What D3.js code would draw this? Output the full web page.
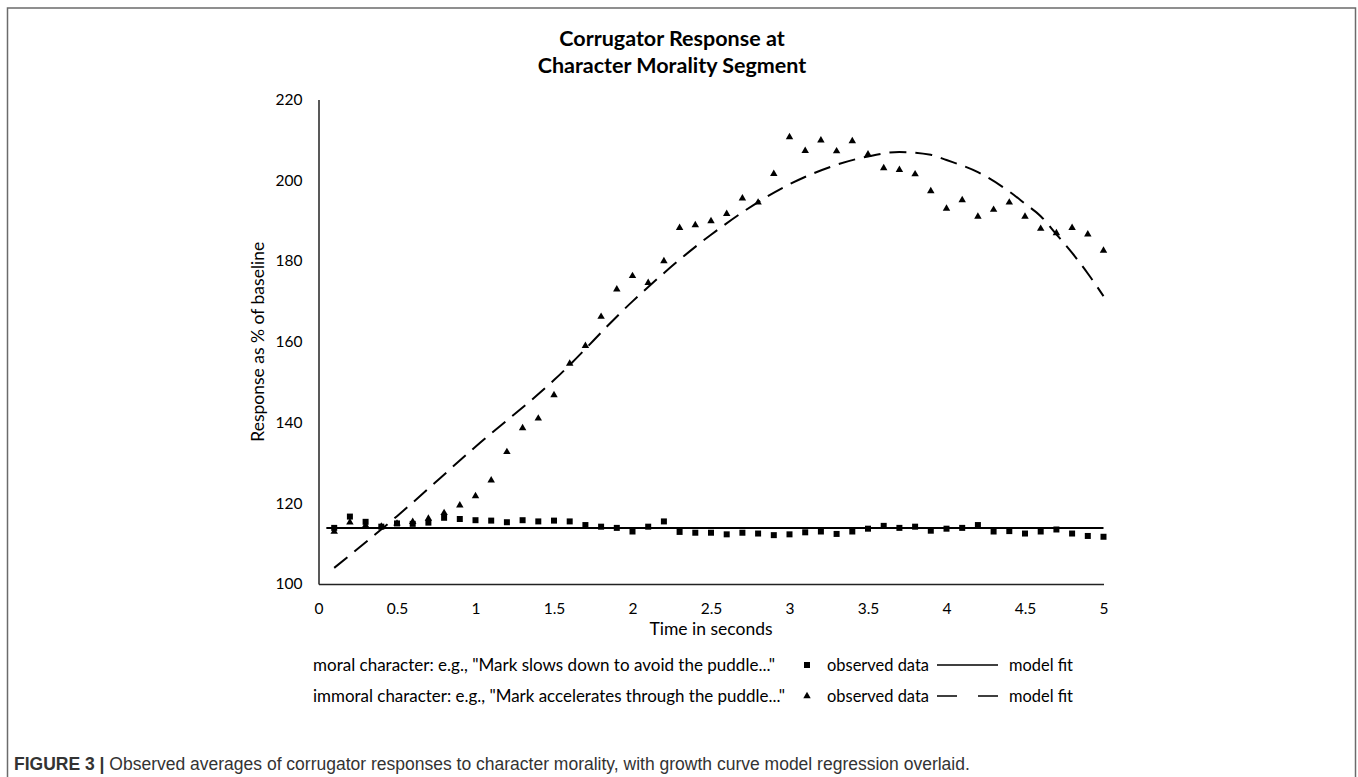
<!DOCTYPE html>
<html>
<head>
<meta charset="utf-8">
<script src="https://cdn.jsdelivr.net/npm/d3@7"></script>
<style>
  body { margin: 0; background: #fff; }
  text { font-family: Lato, "Open Sans", sans-serif; }
</style>
</head>
<body>
<div id="chart"></div>
<script>
// time points (seconds)
var times = [0.1,0.2,0.3,0.4,0.5,0.6,0.7,0.8,0.9,1.0,1.1,1.2,1.3,1.4,1.5,1.6,1.7,1.8,1.9,2.0,
             2.1,2.2,2.3,2.4,2.5,2.6,2.7,2.8,2.9,3.0,3.1,3.2,3.3,3.4,3.5,3.6,3.7,3.8,3.9,4.0,
             4.1,4.2,4.3,4.4,4.5,4.6,4.7,4.8,4.9,5.0];

// moral character, observed
var moralObserved = [113.9,116.7,115.4,114.2,115.0,114.9,115.2,116.4,116.1,115.8,115.7,115.3,115.8,115.5,115.7,115.5,114.6,114.2,113.9,113.0,
                     114.2,115.5,112.9,112.7,112.7,112.3,112.7,112.5,112.1,112.3,112.8,113.0,112.4,113.0,113.7,114.4,113.9,114.2,113.2,113.7,
                     113.9,114.6,113.0,113.1,112.5,113.0,113.5,112.5,111.9,111.7];

// immoral character, observed
var immoralObserved = [113.0,115.3,114.5,114.2,115.0,115.4,116.2,117.6,119.5,121.8,125.7,132.7,138.6,141.0,146.8,154.6,159.0,166.2,173.0,176.3,
                       174.6,180.0,188.2,188.9,189.9,191.7,195.5,194.5,201.6,210.7,207.3,209.9,207.2,209.7,206.4,203.0,202.6,201.5,197.3,193.0,
                       195.1,191.0,192.7,194.5,191.0,188.0,186.9,188.2,186.6,182.6];

// model fits
var moralFitTimes = [0.05, 5.0];
var moralFit = [113.9, 113.9];
var immoralFitTimes = [0.1, 0.5, 1.0, 1.5, 2.0, 2.5, 3.0, 3.5, 3.7, 3.9, 4.0, 4.2, 4.4, 4.5, 4.6, 4.7, 4.8, 4.9, 5.0];
var immoralFit = [104, 116.8, 134, 150.5, 170, 186.5, 199, 205.9, 207, 206.3, 205, 202, 197.2, 194.2, 191.1, 186.6, 182, 176.9, 171.3];

var xTicks = [0, 0.5, 1, 1.5, 2, 2.5, 3, 3.5, 4, 4.5, 5];
var yTicks = [100, 120, 140, 160, 180, 200, 220];

var legendLabels = [
  "moral character: e.g., \"Mark slows down to avoid the puddle...\"",
  "immoral character: e.g., \"Mark accelerates through the puddle...\""
];

var width = 1358, height = 777;

var svg = d3.select("#chart").append("svg")
  .attr("width", width).attr("height", height);

// figure frame
svg.append("path")
  .attr("d", "M7.5,790 L7.5,8 L1355.5,8 L1355.5,790")
  .attr("fill", "none").attr("stroke", "#6b6b6b").attr("stroke-width", 1.5);

var x = d3.scaleLinear().domain([0, 5]).range([318.5, 1103.5]);
var y = d3.scaleLinear().domain([100, 220]).range([584, 99.5]);

// title
svg.append("text").attr("x", 672).attr("y", 45.5).attr("text-anchor", "middle")
  .attr("font-size", 21.5).attr("font-weight", "bold").text("Corrugator Response at");
svg.append("text").attr("x", 672).attr("y", 73).attr("text-anchor", "middle")
  .attr("font-size", 21.5).attr("font-weight", "bold").text("Character Morality Segment");

// axes
var xAxis = svg.append("g").attr("transform", "translate(0," + y(100) + ")")
  .call(d3.axisBottom(x).tickValues(xTicks).tickSize(0).tickPadding(19).tickFormat(d3.format("")));
var yAxis = svg.append("g").attr("transform", "translate(" + x(0) + ",0)")
  .call(d3.axisLeft(y).tickValues(yTicks).tickSize(0).tickPadding(16));
[xAxis, yAxis].forEach(function (a) {
  a.select(".domain").attr("stroke", "#222").attr("stroke-width", 1.5);
  a.selectAll("text").attr("font-size", 15.5).attr("fill", "#000")
    .attr("font-family", "Lato, 'Open Sans', sans-serif");
});

svg.append("text").attr("x", 711).attr("y", 635).attr("text-anchor", "middle")
  .attr("font-size", 17.5).text("Time in seconds");
svg.append("text").attr("transform", "translate(264," + y(160) + ") rotate(-90)")
  .attr("text-anchor", "middle").attr("font-size", 17.5).text("Response as % of baseline");

var line = d3.line().x(function (d) { return x(d[0]); }).y(function (d) { return y(d[1]); });

// model fits
svg.append("path")
  .datum(d3.zip(moralFitTimes, moralFit))
  .attr("d", line)
  .attr("fill", "none").attr("stroke", "#000").attr("stroke-width", 2);

svg.append("path")
  .datum(d3.zip(immoralFitTimes, immoralFit))
  .attr("d", d3.line().curve(d3.curveMonotoneX)
    .x(function (d) { return x(d[0]); }).y(function (d) { return y(d[1]); }))
  .attr("fill", "none").attr("stroke", "#000").attr("stroke-width", 2)
  .attr("stroke-dasharray", "17,9");

// observed points
var tri = d3.symbol().type(d3.symbolTriangle).size(24);
var sq = d3.symbol().type(d3.symbolSquare).size(36);

svg.append("g").selectAll("path")
  .data(d3.zip(times, immoralObserved))
  .join("path")
  .attr("d", tri)
  .attr("transform", function (d) { return "translate(" + x(d[0]) + "," + y(d[1]) + ")"; })
  .attr("fill", "#000");

svg.append("g").selectAll("path")
  .data(d3.zip(times, moralObserved))
  .join("path")
  .attr("d", sq)
  .attr("transform", function (d) { return "translate(" + x(d[0]) + "," + y(d[1]) + ")"; })
  .attr("fill", "#000");

// legend
var legendRows = [
  { label: legendLabels[0], w: 462, symbol: sq, dash: null, y: 665 },
  { label: legendLabels[1], w: 472, symbol: tri, dash: "20,21", y: 696 }
];
legendRows.forEach(function (r) {
  svg.append("text").attr("x", 313).attr("y", r.y + 6).attr("font-size", 16.5)
    .attr("textLength", r.w).attr("lengthAdjust", "spacingAndGlyphs").text(r.label);
  svg.append("path").attr("d", r.symbol).attr("transform", "translate(807," + r.y + ")").attr("fill", "#000");
  svg.append("text").attr("x", 827).attr("y", r.y + 6).attr("font-size", 16.5)
    .attr("textLength", 102).attr("lengthAdjust", "spacingAndGlyphs").text("observed data");
  svg.append("line").attr("x1", 937).attr("x2", 998).attr("y1", r.y).attr("y2", r.y)
    .attr("stroke", "#000").attr("stroke-width", 1.5)
    .attr("stroke-dasharray", r.dash);
  svg.append("text").attr("x", 1009).attr("y", r.y + 6).attr("font-size", 16.5)
    .attr("textLength", 64).attr("lengthAdjust", "spacingAndGlyphs").text("model fit");
});

// caption
var cap = svg.append("text").attr("x", 14).attr("y", 770)
  .attr("font-size", 17.5).attr("fill", "#333")
  .style("font-family", "'Liberation Sans', Arial, sans-serif");
cap.append("tspan").attr("font-weight", "bold").text("FIGURE 3 | ");
cap.append("tspan").text("Observed averages of corrugator responses to character morality, with growth curve model regression overlaid.");
</script>
</body>
</html>
